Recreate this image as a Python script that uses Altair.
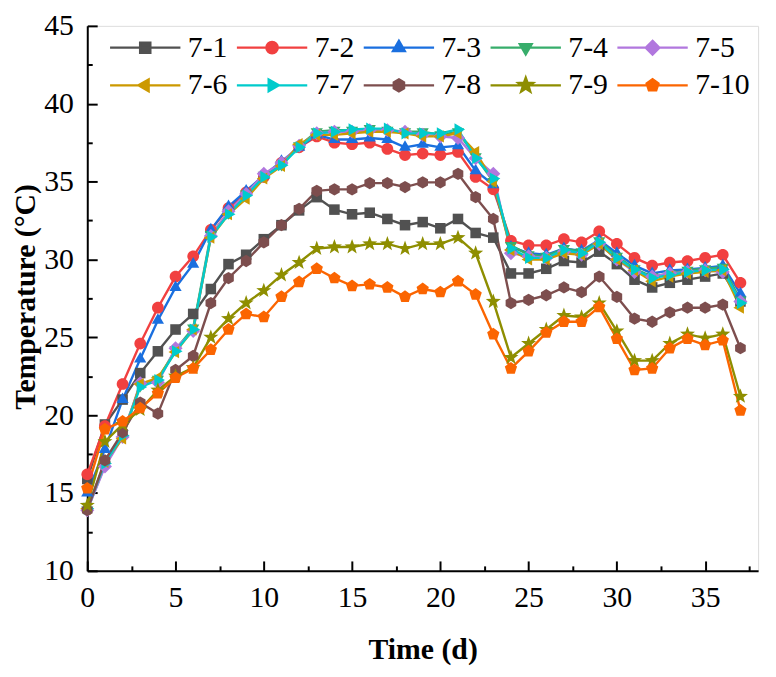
import math
import altair as alt
import pandas as pd

# ---------------- data ----------------
days = list(range(38))
series_names = ["7-1", "7-2", "7-3", "7-4", "7-5", "7-6", "7-7", "7-8", "7-9", "7-10"]

s7_1 = [15.9, 19.4, 21.0, 22.7, 24.1, 25.5, 26.5, 28.1, 29.7, 30.3, 31.3, 32.2, 33.15, 34.0, 33.2, 32.9, 33.0, 32.6, 32.2,
        32.4, 32.0, 32.6, 31.7, 31.4, 29.1, 29.1, 29.4, 29.9, 29.8, 30.5, 29.7, 28.7, 28.2, 28.5, 28.7, 28.9, 29.1, 27.3]
s7_2 = [16.2, 19.3, 22.0, 24.6, 26.9, 28.9, 30.2, 31.9, 33.3, 34.3, 35.3, 36.2, 37.2, 37.9, 37.5, 37.4, 37.5, 37.1, 36.7,
        36.8, 36.7, 36.9, 35.3, 34.5, 31.2, 30.9, 30.9, 31.3, 31.1, 31.8, 31.0, 30.1, 29.6, 29.8, 29.9, 30.1, 30.3, 28.5]
s7_3 = [15.0, 17.8, 21.0, 23.6, 26.1, 28.2, 29.7, 31.9, 33.4, 34.4, 35.4, 36.3, 37.2, 38.0, 37.7, 37.7, 37.8, 37.7, 37.2,
        37.4, 37.2, 37.3, 35.7, 34.8, 30.8, 30.4, 30.3, 30.7, 30.55, 31.25, 30.4, 29.6, 29.1, 29.3, 29.35, 29.45, 29.6, 27.8]
s7_4 = [13.9, 16.8, 18.8, 21.9, 22.3, 24.2, 25.6, 31.6, 33.0, 34.2, 35.4, 36.1, 37.3, 38.2, 38.3, 38.3, 38.4, 38.3, 38.2,
        38.2, 38.0, 38.2, 36.6, 35.0, 30.9, 30.3, 30.2, 30.7, 30.5, 31.2, 30.2, 29.4, 28.9, 29.1, 29.3, 29.4, 29.5, 27.4]
s7_5 = [13.9, 16.7, 18.6, 22.05, 22.1, 24.3, 25.4, 31.5, 33.1, 34.2, 35.5, 36.2, 37.3, 38.1, 38.2, 38.2, 38.3, 38.3, 38.2,
        38.0, 37.9, 37.8, 36.5, 35.5, 30.4, 30.2, 30.1, 30.5, 30.3, 31.0, 30.0, 29.2, 28.9, 29.1, 29.2, 29.3, 29.2, 27.3]
s7_6 = [14.0, 17.0, 18.5, 22.0, 22.4, 24.05, 25.5, 31.4, 32.9, 33.9, 35.2, 36.0, 37.4, 38.0, 38.0, 38.1, 38.2, 38.2, 38.1,
        37.9, 37.9, 38.1, 36.9, 35.0, 30.6, 30.0, 30.0, 30.4, 30.3, 31.0, 30.0, 29.3, 28.6, 28.9, 29.1, 29.2, 29.3, 26.9]
s7_7 = [14.0, 16.9, 18.7, 21.8, 22.25, 24.1, 25.5, 31.45, 32.9, 34.1, 35.3, 36.05, 37.2, 38.1, 38.2, 38.35, 38.4, 38.4, 38.1,
        38.1, 38.1, 38.35, 36.5, 35.2, 30.7, 30.1, 30.1, 30.6, 30.4, 31.1, 30.1, 29.35, 28.8, 29.0, 29.2, 29.3, 29.35, 27.2]
s7_8 = [13.9, 17.1, 18.9, 20.8, 20.1, 22.9, 23.8, 27.2, 28.8, 29.9, 31.1, 32.2, 33.25, 34.4, 34.5, 34.5, 34.9, 34.9, 34.65,
        34.95, 34.95, 35.5, 34.0, 32.6, 27.2, 27.4, 27.7, 28.2, 27.9, 28.9, 27.6, 26.2, 26.0, 26.6, 26.9, 26.9, 27.1, 24.3]
s7_9 = [14.2, 18.3, 19.4, 20.35, 21.6, 22.5, 23.05, 25.0, 26.2, 27.2, 28.0, 29.0, 29.8, 30.7, 30.8, 30.8, 31.0, 31.0, 30.7,
        31.0, 31.0, 31.4, 30.4, 27.3, 23.7, 24.6, 25.5, 26.4, 26.3, 27.2, 25.4, 23.5, 23.5, 24.6, 25.2, 24.95, 25.2, 21.2]
s7_10 = [15.3, 19.1, 19.6, 20.45, 21.4, 22.4, 23.0, 24.2, 25.5, 26.5, 26.3, 27.6, 28.55, 29.4, 28.8, 28.3, 28.4, 28.2, 27.6,
         28.1, 27.9, 28.6, 27.75, 25.2, 23.0, 24.1, 25.3, 26.0, 26.0, 26.95, 24.9, 22.9, 23.0, 24.3, 24.9, 24.5, 24.8, 20.3]

all_series = [s7_1, s7_2, s7_3, s7_4, s7_5, s7_6, s7_7, s7_8, s7_9, s7_10]

x_ticks = [0, 5, 10, 15, 20, 25, 30, 35]
x_minor = [2.5, 7.5, 12.5, 17.5, 22.5, 27.5, 32.5, 37.5]
y_ticks = [10, 15, 20, 25, 30, 35, 40, 45]
y_minor = [12.5, 17.5, 22.5, 27.5, 32.5, 37.5, 42.5]

colors = ["#515151", "#F14040", "#1A6FDF", "#37AD6B", "#B177DE",
          "#CC9900", "#00CBCC", "#7D4E4E", "#8E8E00", "#FB6501"]

rows = []
for name, vals in zip(series_names, all_series):
    for d, v in zip(days, vals):
        rows.append({"day": d, "series": name, "temp": v})
df = pd.DataFrame(rows)

# ---------------- marker shapes (unit paths) ----------------
def poly(pts):
    return "M" + " L".join(f"{x:.3f},{y:.3f}" for x, y in pts) + " Z"

def regular(n, R, start_deg, k=1.0):
    return [(k * R * math.cos(math.radians(start_deg + 360.0 * i / n)),
             k * R * math.sin(math.radians(start_deg + 360.0 * i / n))) for i in range(n)]

def marker(kind, k=1.0):
    if kind == "square":
        h = 0.9 * k
        return poly([(-h, -h), (h, -h), (h, h), (-h, h)])
    if kind == "circle":
        r = 1.0 * k
        return f"M{r:.3f},0 A{r:.3f},{r:.3f} 0 1,1 {-r:.3f},0 A{r:.3f},{r:.3f} 0 1,1 {r:.3f},0 Z"
    if kind == "tri-up":
        return poly(regular(3, 1.2, -90, k))
    if kind == "tri-down":
        return poly(regular(3, 1.2, 90, k))
    if kind == "diamond":
        return poly(regular(4, 1.2, -90, k))
    if kind == "tri-left":
        return poly(regular(3, 1.2, 180, k))
    if kind == "tri-right":
        return poly(regular(3, 1.2, 0, k))
    if kind == "hexagon":
        return poly(regular(6, 1.05, -90, k))
    if kind == "star":
        pts = []
        for i in range(10):
            R = 1.35 if i % 2 == 0 else 0.55
            a = math.radians(-90 + 36 * i)
            pts.append((k * R * math.cos(a), k * R * math.sin(a)))
        return poly(pts)
    if kind == "pentagon":
        return poly(regular(5, 1.1, -90, k))

kinds = ["square", "circle", "tri-up", "tri-down", "diamond",
         "tri-left", "tri-right", "hexagon", "star", "pentagon"]
point_paths = [marker(kd) for kd in kinds]
legend_paths = ["M-3.55,0 L3.55,0 " + marker(kd, 0.57) for kd in kinds]

FONT = "Liberation Serif"

legend = alt.Legend(
    title=None, orient="none", legendX=23, legendY=7, direction="horizontal", columns=5,
    symbolSize=400, symbolOffset=20.5, labelOffset=28, symbolStrokeWidth=2.4,
    labelFont=FONT, labelFontSize=30, labelColor="black", labelLimit=300,
    rowPadding=8, columnPadding=4, padding=0, symbolOpacity=1,
)

xs = alt.Scale(domain=[0, 38], nice=False)
ys = alt.Scale(domain=[10, 45], nice=False, zero=False)

x_main = alt.Axis(values=x_ticks, ticks=False, tickSize=0, labelPadding=12, labelFlush=False,
                  labelFont=FONT, labelFontSize=30, labelColor="black",
                  domainColor="black", domainWidth=2, grid=False,
                  title="Time (d)", titleFont=FONT, titleFontSize=30, titleFontWeight="bold",
                  titleColor="black", titleY=88, titleBaseline="alphabetic", orient="bottom")
y_main = alt.Axis(values=y_ticks, ticks=False, tickSize=0, labelPadding=14, labelFlush=False,
                  labelFont=FONT, labelFontSize=30, labelColor="black",
                  domainColor="black", domainWidth=2, grid=False,
                  title="Temperature (°C)", titleFont=FONT, titleFontSize=30, titleFontWeight="bold",
                  titleColor="black", titleX=-53, titleY=273, titleBaseline="alphabetic",
                  titleAngle=270, orient="left")

x_major = alt.Axis(values=x_ticks, orient="bottom", offset=-10, tickSize=10, tickWidth=2, tickColor="black",
                   labels=False, domain=False, grid=False, title=None)
y_major = alt.Axis(values=y_ticks, orient="left", offset=-10, tickSize=10, tickWidth=2, tickColor="black",
                   labels=False, domain=False, grid=False, title=None)
x_minor_ax = alt.Axis(values=x_minor, orient="bottom", offset=-5, tickSize=5, tickWidth=2, tickColor="black",
                      labels=False, domain=False, grid=False, title=None)
y_minor_ax = alt.Axis(values=y_minor, orient="left", offset=-5, tickSize=5, tickWidth=2, tickColor="black",
                      labels=False, domain=False, grid=False, title=None)

color_scale = alt.Scale(domain=series_names, range=colors)
shape_scale = alt.Scale(domain=series_names, range=point_paths)
legend_shape_scale = alt.Scale(domain=series_names, range=legend_paths)

base = alt.Chart(df)

lines = base.mark_line(strokeWidth=2.4).encode(
    x=alt.X("day:Q", scale=xs, axis=x_main),
    y=alt.Y("temp:Q", scale=ys, axis=y_main),
    color=alt.Color("series:N", scale=color_scale, legend=None, sort=series_names),
    order="day:Q",
)

points = base.mark_point(filled=True, opacity=1, size=140).encode(
    x=alt.X("day:Q", scale=xs, axis=x_major),
    y=alt.Y("temp:Q", scale=ys, axis=y_major),
    color=alt.Color("series:N", scale=color_scale, legend=None, sort=series_names),
    shape=alt.Shape("series:N", scale=shape_scale, legend=None, sort=series_names),
)

# empty layer: carries the minor-tick axes and the legend (line + marker symbols)
ghost = base.transform_filter("false").transform_calculate(key="datum.series").mark_point(filled=True).encode(
    x=alt.X("day:Q", scale=xs, axis=x_minor_ax),
    y=alt.Y("temp:Q", scale=ys, axis=y_minor_ax),
    fill=alt.Fill("key:N", scale=color_scale, legend=legend, sort=series_names),
    stroke=alt.Stroke("key:N", scale=color_scale, legend=legend, sort=series_names),
    shape=alt.Shape("key:N", scale=legend_shape_scale, legend=legend, sort=series_names),
)

chart = alt.layer(lines, points, ghost).resolve_axis(
    x="independent", y="independent"
).resolve_scale(
    shape="independent", fill="independent", stroke="independent"
).properties(
    width=677, height=550,
    padding={"left": 80, "top": 15, "right": 10, "bottom": 95},
    autosize=alt.AutoSizeParams(type="none"),
    background="white",
).configure_view(
    stroke="black", strokeWidth=2
).configure(font=FONT)

chart.save("out.html", embed_options={"renderer": "svg", "actions": False})
